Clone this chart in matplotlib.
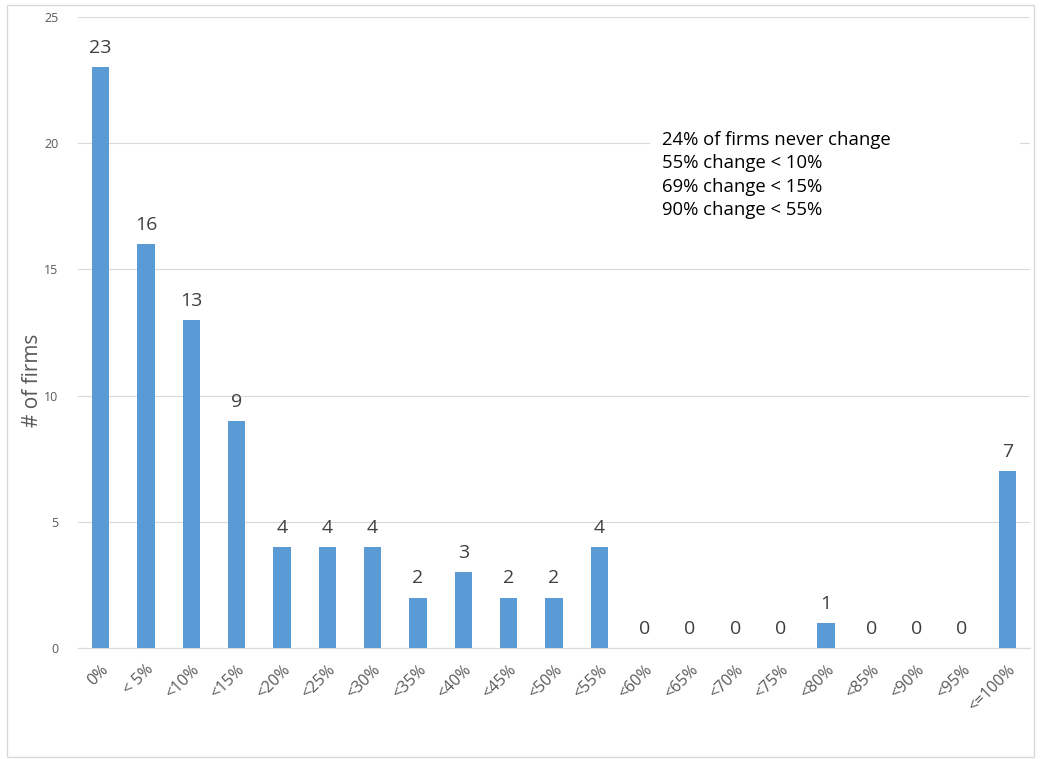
import matplotlib
matplotlib.use("Agg")
import matplotlib.pyplot as plt
from matplotlib.patches import Rectangle

categories = ["0%", "< 5%", "<10%", "<15%", "<20%", "<25%", "<30%", "<35%", "<40%", "<45%",
              "<50%", "<55%", "<60%", "<65%", "<70%", "<75%", "<80%", "<85%", "<90%", "<95%", "<=100%"]
firms = [23, 16, 13, 9, 4, 4, 4, 2, 3, 2, 2, 4, 0, 0, 0, 0, 1, 0, 0, 0, 7]
yticks = [0, 5, 10, 15, 20, 25]
note_lines = ["24% of firms never change", "55% change < 10%", "69% change < 15%", "90% change < 55%"]

plt.rcParams['font.family'] = ['Open Sans', 'DejaVu Sans']

W, H = 1041, 759
fig = plt.figure(figsize=(W / 100, H / 100), dpi=100)
ax = fig.add_axes([78/W, 1 - 648/H, (1030-78)/W, (648-17)/H])

x = list(range(len(categories)))
ax.bar(x, firms, width=0.38, color="#5B9BD5", zorder=3)
for xi, v in zip(x, firms):
    ax.text(xi, v + 0.4, str(v), ha="center", va="bottom", fontsize=14, color="#404040", zorder=4)

ax.set_xlim(-0.5, len(categories) - 0.5)
ax.set_ylim(0, 25)
ax.set_yticks(yticks)
ax.set_yticklabels([str(t) for t in yticks], fontsize=9, color="#595959")
ax.set_xticks(x)
ax.set_xticklabels(categories, rotation=45, ha="right", rotation_mode="anchor", fontsize=11.5, color="#595959")
ax.tick_params(axis="both", length=0)
ax.tick_params(axis="y", pad=14)
ax.tick_params(axis="x", pad=10)
for s in ["top", "right", "left"]:
    ax.spines[s].set_visible(False)
ax.spines["bottom"].set_color("#D9D9D9")
ax.grid(axis="y", color="#D9D9D9", linewidth=0.8, zorder=0)
ax.set_axisbelow(True)
fig.text(33/W, 1 - 380/H, "# of firms", rotation=90, ha="center", va="center", fontsize=15, color="#595959")

ax.add_patch(Rectangle((650/W, 1 - 238/H), (1020-650)/W, (238-122)/H, transform=fig.transFigure,
                       facecolor="white", edgecolor="none", zorder=2))
fig.text(662/W, 1 - 131/H, "\n".join(note_lines), ha="left", va="top",
         fontsize=13.3, color="black", linespacing=1.38, zorder=5)

fig.patches.append(Rectangle((7/W, 2/H), (1034-7)/W, (754-2)/H, transform=fig.transFigure,
                             fill=False, edgecolor="#D9D9D9", linewidth=1))

fig.savefig("out.png", dpi=100)
